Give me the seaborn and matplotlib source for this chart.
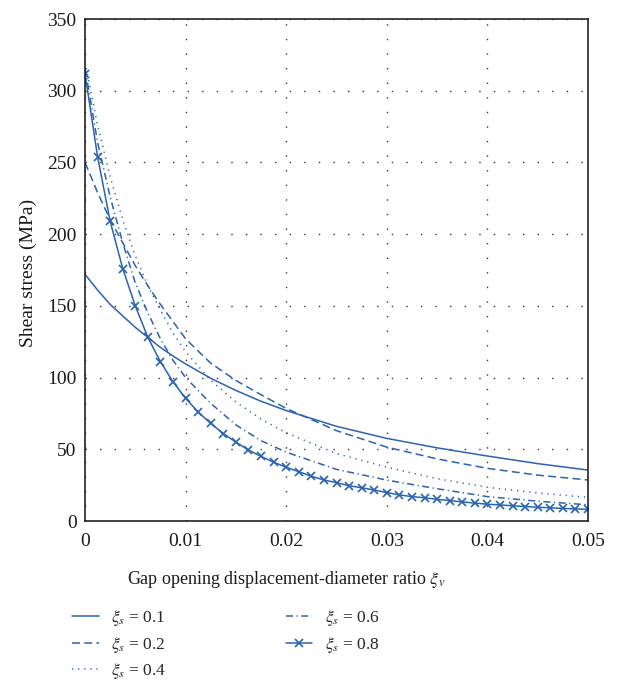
import matplotlib
matplotlib.use("Agg")
import matplotlib.pyplot as plt
import seaborn as sns
import pandas as pd

# ---- data ----
x_coarse = [0, 0.00125, 0.0025, 0.00375, 0.005, 0.00625, 0.0075, 0.00875, 0.01,
            0.0125, 0.015, 0.0175, 0.02, 0.025, 0.03, 0.035, 0.04, 0.045, 0.05]
y_01 = [172, 161, 151, 143, 135, 128, 121, 115, 109.5, 99.5, 91, 83.5, 77, 66, 57.6, 51, 45.3, 40, 35.5]
y_02 = [250, 229, 210, 194, 178, 164, 151, 139, 127, 110, 98, 88, 78.5, 63, 51.5, 43.3, 36.7, 32, 28.6]
y_04 = [320, 276, 240, 210, 185, 164, 147, 131, 118, 98, 83, 71, 61.5, 47, 37.5, 29.5, 23.5, 19.5, 16.5]
y_06 = [316, 264, 226, 194, 166, 145, 127, 112, 100, 82, 67, 56, 48, 36, 28.5, 22.5, 17, 13.8, 11.3]

x_fine = [0, 0.00125, 0.0025, 0.00375, 0.005, 0.00625, 0.0075, 0.00875, 0.01,
          0.01125, 0.0125, 0.01375, 0.015, 0.01625, 0.0175, 0.01875, 0.02,
          0.02125, 0.0225, 0.02375, 0.025, 0.02625, 0.0275, 0.02875, 0.03,
          0.03125, 0.0325, 0.03375, 0.035, 0.03625, 0.0375, 0.03875, 0.04,
          0.04125, 0.0425, 0.04375, 0.045, 0.04625, 0.0475, 0.04875, 0.05]
y_08 = [312, 254, 209, 176, 150, 128, 111, 97, 85.5,
        76, 68, 61, 55, 49.5, 45, 41, 37.5,
        34.4, 31.2, 28.6, 26.7, 24.6, 23.2, 21.6, 19.8,
        18.2, 17, 16.2, 15.1, 14.2, 13.3, 12.5, 11.7,
        11.2, 10.6, 10.1, 9.6, 9.2, 8.8, 8.4, 8.2]

series_labels = [r"$\xi_s$ = 0.1", r"$\xi_s$ = 0.2", r"$\xi_s$ = 0.4",
                 r"$\xi_s$ = 0.6", r"$\xi_s$ = 0.8"]
x_ticks = [0, 0.01, 0.02, 0.03, 0.04, 0.05]
x_tick_labels = ["0", "0.01", "0.02", "0.03", "0.04", "0.05"]
y_ticks = [0, 50, 100, 150, 200, 250, 300, 350]

frames = []
for lab, xs, ys in zip(series_labels,
                       [x_coarse, x_coarse, x_coarse, x_coarse, x_fine],
                       [y_01, y_02, y_04, y_06, y_08]):
    frames.append(pd.DataFrame({"x": xs, "stress": ys, "series": lab}))
df = pd.concat(frames, ignore_index=True)

# ---- style ----
sns.set_style("white")
plt.rcParams["font.family"] = ["Liberation Serif", "DejaVu Serif"]
plt.rcParams["mathtext.fontset"] = "stix"

blue = "#2a63b0"
styles = {
    series_labels[0]: dict(linestyle="-", marker=None),
    series_labels[1]: dict(linestyle=(0, (5.2, 2.8)), marker=None),
    series_labels[2]: dict(linestyle=(0, (0.8, 3.2)), marker=None),
    series_labels[3]: dict(linestyle=(0, (4.6, 2.3, 0.8, 2.3)), marker=None),
    series_labels[4]: dict(linestyle="-", marker="x"),
}

fig = plt.figure(figsize=(6.17, 6.82), dpi=100)
ax = fig.add_axes([85 / 617, 1 - 521 / 682, 503 / 617, 502 / 682])

for lab in series_labels:
    sub = df[df["series"] == lab]
    st = styles[lab]
    kw = dict(linestyle=st["linestyle"], linewidth=1.1, color=blue, label=lab)
    if st["marker"]:
        kw.update(marker=st["marker"], markersize=6, markeredgewidth=1.2,
                  markeredgecolor=blue, markerfacecolor=blue)
    sns.lineplot(data=sub, x="x", y="stress", ax=ax, **kw)

ax.set_xlim(0, 0.05)
ax.set_ylim(0, 350)
ax.set_xticks(x_ticks)
ax.set_xticklabels(x_tick_labels)
ax.set_yticks(y_ticks)

ax.grid(True, color="#333333", linestyle=(0, (1, 9.5)), linewidth=1.0)
for s in ax.spines.values():
    s.set_color("#222222")
    s.set_linewidth(1.2)
ax.tick_params(axis="both", direction="in", length=6, width=1.4,
               colors="#333333", labelcolor="#1a1a1a", labelsize=14,
               top=False, right=False)
ax.tick_params(axis="x", pad=9)
ax.tick_params(axis="y", pad=6)

ax.set_xlabel(r"Gap opening displacement-diameter ratio $\xi_v$", fontsize=13, color="#1a1a1a")
ax.set_ylabel("Shear stress (MPa)", fontsize=14, color="#1a1a1a")
ax.xaxis.set_label_coords((286.5 - 85) / 503, -(569 - 521) / 502)
ax.yaxis.set_label_coords(-(85 - 37) / 503, (521 - 273) / 502)

ax.legend(loc="upper left", bbox_to_anchor=(60 / 617, 1 - 596 / 682),
          bbox_transform=fig.transFigure, ncol=2, frameon=False,
          fontsize=12.5, handlelength=1.55, handletextpad=0.7,
          columnspacing=6.85, labelspacing=0.38, borderpad=0.2)

fig.savefig("out.png", dpi=100)
